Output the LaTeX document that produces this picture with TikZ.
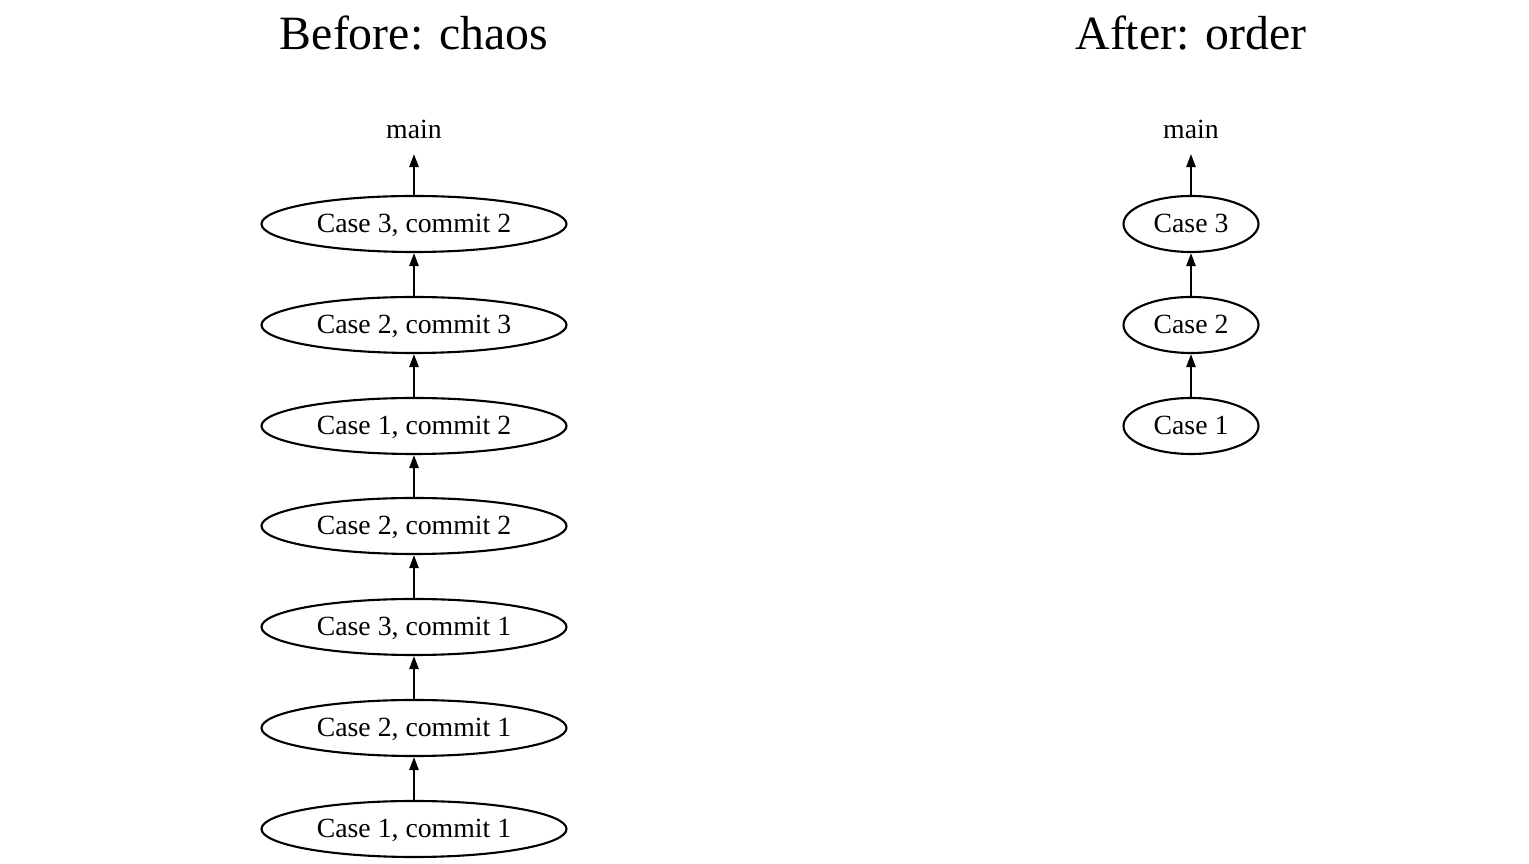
\documentclass[tikz,border=0pt]{standalone}
\usepackage{fontspec}
\setmainfont{Liberation Serif}
\usetikzlibrary{shapes.geometric,arrows.meta}
\newcommand{\commitfont}{\fontsize{7.9}{9.5}\selectfont}
\newcommand{\titlefont}{\fontsize{13.6}{16}\selectfont}
\tikzset{
  % one commit on a branch
  commit/.style={ellipse, draw, line width=0.6pt, inner sep=0pt,
    minimum height=0.56cm, text height=5.6pt, text depth=1pt, font=\commitfont},
  longcommit/.style={commit, minimum width=3.05cm},
  shortcommit/.style={commit, minimum width=1.35cm},
  branch/.style={font=\commitfont, anchor=base, inner sep=4pt},
  heading/.style={font=\titlefont, anchor=base},
  history/.style={-{Triangle[length=3.7pt,width=2.6pt]}, line width=0.6pt},
}

\begin{document}
\begin{tikzpicture}
  \useasboundingbox (0,0) rectangle (15.29,-8.64);

  \node [heading] at (4.14,-0.50) (before) {Before: chaos};
  \node [heading] at (11.91,-0.50) (after) {After: order};

  % interleaved history
  \node [branch] at (4.14,-1.39) (mainL) {main};
  \node [longcommit] at (4.14,-2.24) (b32) {Case 3, commit 2};
  \node [longcommit] at (4.14,-3.25) (b23) {Case 2, commit 3};
  \node [longcommit] at (4.14,-4.26) (b12) {Case 1, commit 2};
  \node [longcommit] at (4.14,-5.26) (b22) {Case 2, commit 2};
  \node [longcommit] at (4.14,-6.27) (b31) {Case 3, commit 1};
  \node [longcommit] at (4.14,-7.28) (b21) {Case 2, commit 1};
  \node [longcommit] at (4.14,-8.29) (b11) {Case 1, commit 1};

  \draw [history] (b11) -- (b21);
  \draw [history] (b21) -- (b31);
  \draw [history] (b31) -- (b22);
  \draw [history] (b22) -- (b12);
  \draw [history] (b12) -- (b23);
  \draw [history] (b23) -- (b32);
  \draw [history] (b32) -- (mainL);

  % squashed history
  \node [branch] at (11.91,-1.39) (mainR) {main};
  \node [shortcommit] at (11.91,-2.24) (a3) {Case 3};
  \node [shortcommit] at (11.91,-3.25) (a2) {Case 2};
  \node [shortcommit] at (11.91,-4.26) (a1) {Case 1};

  \draw [history] (a1) -- (a2);
  \draw [history] (a2) -- (a3);
  \draw [history] (a3) -- (mainR);

\end{tikzpicture}
\end{document}
